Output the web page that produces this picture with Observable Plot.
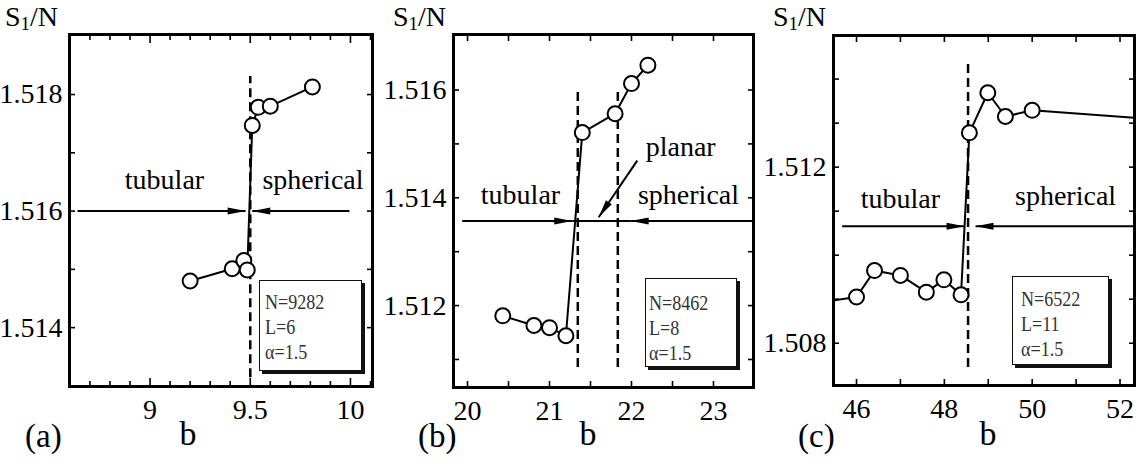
<!DOCTYPE html>
<html>
<head>
<meta charset="utf-8">
<script src="https://cdn.jsdelivr.net/npm/d3@7"></script>
<script src="https://cdn.jsdelivr.net/npm/@observablehq/plot@0.6"></script>
<style>
  body { margin: 0; background: #fff; }
  #wrap { position: relative; width: 1140px; height: 467px; overflow: hidden; background: #fff;
          font-family: "Liberation Serif", "Times New Roman", serif; color: #000; }
  .panel { position: absolute; top: 0; }
  .lbl { position: absolute; white-space: nowrap; line-height: 1; }
  .ytitle { position: absolute; white-space: nowrap; top: 1px; font-size: 28px; line-height: 32px; }
  .box { position: absolute; background: #fff; border: 1px solid #111; box-shadow: 3px 3px 0 #111; box-sizing: border-box; }
  .box div { font-size: 22px; line-height: 25px; height: 25px; color: #333; transform: scaleX(0.82); transform-origin: 0 50%; white-space: nowrap; }
</style>
</head>
<body>
<div id="wrap"></div>
<script>
// ---------------- Panel (a): N=9282, L=6 ----------------
const bA = [9.2, 9.41, 9.468, 9.485, 9.51, 9.54, 9.6, 9.81];
const sA = [1.5148, 1.51501, 1.51515, 1.51499, 1.51747, 1.51778, 1.5178, 1.51813];
const xDomainA = [8.598, 10.11];
const yDomainA = [1.51299, 1.51903];
const xLabelsA = [9, 9.5, 10];
const xMajorA = [9, 9.5, 10];
const xMinorA = [8.6, 8.7, 8.8, 8.9, 9.1, 9.2, 9.3, 9.4, 9.6, 9.7, 9.8, 9.9, 10.1];
const yLabelsA = [1.514, 1.516, 1.518];
const yTicksA = [1.514, 1.515, 1.516, 1.517, 1.518];
const dashXA = [9.5];
const dashYA = [1.51314, 1.51831];
const wordsA = ["tubular", "spherical"];
const wordXA = [9.072, 9.813];
const wordYA = [1.51654, 1.51654];
const arrX1A = [8.638, 9.995];
const arrX2A = [9.477, 9.51];
const arrY1A = [1.516, 1.516];
const arrY2A = [1.516, 1.516];
const arrHeadA = [true, true];
const legendA = ["N=9282", "L=6", "α=1.5"];

// ---------------- Panel (b): N=8462, L=8 ----------------
const bB = [20.43, 20.81, 21.0, 21.2, 21.4, 21.8, 22.0, 22.2];
const sB = [1.51181, 1.51163, 1.51159, 1.51144, 1.51521, 1.51556, 1.51612, 1.51646];
const xDomainB = [19.829, 23.488];
const yDomainB = [1.51048, 1.51703];
const xLabelsB = [20, 21, 22, 23];
const xMajorB = [20, 21, 22, 23];
const xMinorB = [20.5, 21.5, 22.5];
const yLabelsB = [1.512, 1.514, 1.516];
const yTicksB = [1.511, 1.512, 1.513, 1.514, 1.515, 1.516];
const dashXB = [21.345, 21.833];
const dashYB = [1.51085, 1.51602];
const wordsB = ["tubular", "spherical", "planar"];
const wordXB = [20.646, 22.695, 22.6];
const wordYB = [1.51405, 1.51405, 1.51494];
const arrX1B = [19.935, 23.488, 21.277, 22.07];
const arrX2B = [21.277, 21.99, 21.99, 21.6];
const arrY1B = [1.51357, 1.51357, 1.51357, 1.51469];
const arrY2B = [1.51357, 1.51357, 1.51357, 1.51364];
const arrHeadB = [true, true, false, true];
const legendB = ["N=8462", "L=8", "α=1.5"];

// ---------------- Panel (c): N=6522, L=11 ----------------
const bC = [45.0, 46.0, 46.41, 47.0, 47.59, 47.99, 48.38, 48.57, 48.99, 49.39, 50.0, 53.0];
const sC = [1.5089, 1.50905, 1.50965, 1.50954, 1.50916, 1.50944, 1.5091, 1.51278, 1.51369, 1.51315, 1.51329, 1.51307];
const xDomainC = [45.476, 52.33];
const yDomainC = [1.50704, 1.51499];
const xLabelsC = [46, 48, 50, 52];
const xMajorC = [46, 47, 48, 49, 50, 51, 52];
const xMinorC = [];
const yLabelsC = [1.508, 1.512];
const yTicksC = [1.508, 1.509, 1.510, 1.511, 1.512, 1.513, 1.514];
const dashXC = [48.54];
const dashYC = [1.50745, 1.5144];
const wordsC = ["tubular", "spherical"];
const wordXC = [47.0, 50.76];
const wordYC = [1.51127, 1.51135];
const arrX1C = [45.674, 52.3];
const arrX2C = [48.46, 48.71];
const arrY1C = [1.51066, 1.51066];
const arrY2C = [1.51066, 1.51066];
const arrHeadC = [true, true];
const legendC = ["N=6522", "L=11", "α=1.5"];

// ---------------- layout ----------------
const W = 380, H = 467;
const FONT = '"Liberation Serif", "Times New Roman", serif';

const panels = [
  { tag: "(a)", left: 0, ml: 69, mr: 8, mt: 34, mb: 81,
    b: bA, s: sA, xDomain: xDomainA, yDomain: yDomainA,
    xLabels: xLabelsA, xMajor: xMajorA, xMinor: xMinorA, yLabels: yLabelsA, yTicks: yTicksA,
    xMajorLen: 8, xMinorLen: 5, yLen: 6,
    xFmt: d => String(d),
    dashX: dashXA, dashY: dashYA, words: wordsA, wordX: wordXA, wordY: wordYA,
    arr: { x1: arrX1A, x2: arrX2A, y1: arrY1A, y2: arrY2A, head: arrHeadA },
    legend: legendA, box: { left: 259, top: 280, w: 103, h: 91, pl: 5, pt: 8 },
    sLeft: 5, bX: 188, tagLeft: 25 },
  { tag: "(b)", left: 380, ml: 73, mr: 7, mt: 34, mb: 80,
    b: bB, s: sB, xDomain: xDomainB, yDomain: yDomainB,
    xLabels: xLabelsB, xMajor: xMajorB, xMinor: xMinorB, yLabels: yLabelsB, yTicks: yTicksB,
    xMajorLen: 6, xMinorLen: 6, yLen: 6,
    xFmt: d => String(d),
    dashX: dashXB, dashY: dashYB, words: wordsB, wordX: wordXB, wordY: wordYB,
    arr: { x1: arrX1B, x2: arrX2B, y1: arrY1B, y2: arrY2B, head: arrHeadB },
    legend: legendB, box: { left: 645, top: 278, w: 92, h: 89, pl: 3, pt: 11 },
    sLeft: 393, bX: 588, tagLeft: 418 },
  { tag: "(c)", left: 760, ml: 73, mr: 6, mt: 35, mb: 82,
    b: bC, s: sC, xDomain: xDomainC, yDomain: yDomainC,
    xLabels: xLabelsC, xMajor: xMajorC, xMinor: xMinorC, yLabels: yLabelsC, yTicks: yTicksC,
    xMajorLen: 6, xMinorLen: 6, yLen: 6,
    xFmt: d => String(d),
    dashX: dashXC, dashY: dashYC, words: wordsC, wordX: wordXC, wordY: wordYC,
    arr: { x1: arrX1C, x2: arrX2C, y1: arrY1C, y2: arrY2C, head: arrHeadC },
    legend: legendC, box: { left: 1012, top: 276, w: 97, h: 89, pl: 8, pt: 9 },
    sLeft: 773, bX: 988, tagLeft: 798 }
];

// narrow filled arrowhead with its tip at the mark position
function headSymbol(angle) {
  const c = Math.cos(angle), s = Math.sin(angle), L = 18, Wd = 3.5;
  return {
    draw(ctx) {
      ctx.moveTo(0, 0);
      ctx.lineTo(-L * c - Wd * s, -L * s + Wd * c);
      ctx.lineTo(-L * c + Wd * s, -L * s - Wd * c);
      ctx.closePath();
    }
  };
}

const wrap = document.getElementById("wrap");

for (const p of panels) {
  const pts = p.b.map((b, i) => ({ b, s: p.s[i] }));
  const dashes = p.dashX.map(x => ({ x, y1: p.dashY[0], y2: p.dashY[1] }));
  const words = p.words.map((t, i) => ({ t, x: p.wordX[i], y: p.wordY[i] }));
  const arrows = p.arr.x1.map((x1, i) => ({ x1, x2: p.arr.x2[i], y1: p.arr.y1[i], y2: p.arr.y2[i], head: p.arr.head[i] }));
  const sx = d3.scaleLinear(p.xDomain, [p.ml, W - p.mr]);
  const sy = d3.scaleLinear(p.yDomain, [H - p.mb, p.mt]);
  const heads = arrows.filter(a => a.head).map(a =>
    Plot.dot([a], { x: "x2", y: "y2", r: 6, symbol: headSymbol(Math.atan2(sy(a.y2) - sy(a.y1), sx(a.x2) - sx(a.x1))), fill: "black", stroke: "none" })
  );
  const yFmt = d3.format(".3f");
  const tickAxes = [];
  for (const anchor of ["bottom", "top"]) {
    tickAxes.push(Plot.axisX(p.xMajor, { anchor, tickSize: -p.xMajorLen, strokeWidth: 1.6, fill: "none", label: null }));
    if (p.xMinor.length) tickAxes.push(Plot.axisX(p.xMinor, { anchor, tickSize: -p.xMinorLen, strokeWidth: 1.6, fill: "none", label: null }));
  }
  for (const anchor of ["left", "right"]) {
    tickAxes.push(Plot.axisY(p.yTicks, { anchor, tickSize: -p.yLen, strokeWidth: 1.6, fill: "none", label: null }));
  }
  const chart = Plot.plot({
    width: W, height: H,
    marginLeft: p.ml, marginRight: p.mr, marginTop: p.mt, marginBottom: p.mb,
    x: { domain: p.xDomain },
    y: { domain: p.yDomain },
    style: { fontFamily: FONT, color: "#000", background: "transparent" },
    marks: [
      Plot.ruleX(dashes, { x: "x", y1: "y1", y2: "y2", strokeWidth: 2.5, strokeDasharray: "9,5", stroke: "black" }),
      Plot.link(arrows, { x1: "x1", y1: "y1", x2: "x2", y2: "y2", strokeWidth: 2, stroke: "black" }),
      ...heads,
      Plot.line(pts, { x: "b", y: "s", strokeWidth: 2, stroke: "black", clip: true }),
      Plot.dot(pts, { x: "b", y: "s", r: 7.5, fill: "white", stroke: "black", strokeWidth: 2, clip: true }),
      Plot.text(words, { x: "x", y: "y", text: "t", fontSize: 28, fill: "black" }),
      Plot.axisX(p.xLabels, { anchor: "bottom", tickSize: 0, tickPadding: 13, fontSize: 28, tickFormat: p.xFmt, label: null }),
      Plot.axisY(p.yLabels, { anchor: "left", tickSize: 0, tickPadding: 7, fontSize: 28, tickFormat: yFmt, label: null }),
      ...tickAxes,
      Plot.frame({ strokeWidth: 3, stroke: "black" })
    ]
  });
  chart.classList.add("panel");
  chart.style.left = p.left + "px";
  chart.style.position = "absolute";
  chart.style.top = "0px";
  wrap.appendChild(chart);

  // y-axis title S1/N
  const st = document.createElement("div");
  st.className = "ytitle";
  st.style.left = p.sLeft + "px";
  st.innerHTML = 'S<span style="font-size:19px;position:relative;top:4px">1</span>/N';
  wrap.appendChild(st);

  // x-axis title b
  const bt = document.createElement("div");
  bt.className = "lbl";
  bt.style.left = (p.bX - 40) + "px";
  bt.style.width = "80px";
  bt.style.textAlign = "center";
  bt.style.top = (445 - 0.8375 * 34) + "px";
  bt.style.fontSize = "34px";
  bt.textContent = "b";
  wrap.appendChild(bt);

  // panel tag
  const tg = document.createElement("div");
  tg.className = "lbl";
  tg.style.left = p.tagLeft + "px";
  tg.style.top = (448 - 0.8375 * 33) + "px";
  tg.style.fontSize = "33px";
  tg.textContent = p.tag;
  wrap.appendChild(tg);

  // parameter box
  const bx = document.createElement("div");
  bx.className = "box";
  Object.assign(bx.style, {
    left: p.box.left + "px", top: p.box.top + "px",
    width: p.box.w + "px", height: p.box.h + "px",
    paddingLeft: p.box.pl + "px", paddingTop: p.box.pt + "px"
  });
  for (const line of p.legend) {
    const d = document.createElement("div");
    d.textContent = line;
    bx.appendChild(d);
  }
  wrap.appendChild(bx);
}
</script>
</body>
</html>
